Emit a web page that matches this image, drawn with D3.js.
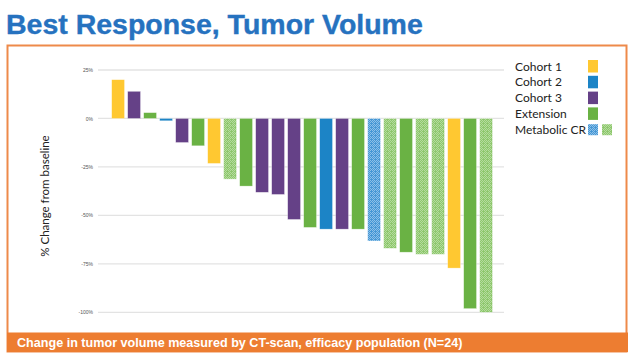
<!DOCTYPE html>
<html><head><meta charset="utf-8">
<script src="https://cdn.jsdelivr.net/npm/d3@7"></script>
<style>body{margin:0;background:#fff}svg{display:block}</style>
</head><body>
<svg id="c" width="640" height="360"></svg>
<script>
// Data
const patients = d3.range(1, 25).map(i => "P" + i);
const groups = ["Cohort 1","Cohort 3","Extension","Cohort 2","Cohort 3","Extension","Cohort 1","Extension","Extension","Cohort 3","Cohort 3","Cohort 3","Extension","Cohort 2","Cohort 3","Extension","Cohort 2","Extension","Extension","Extension","Extension","Cohort 1","Extension","Extension"];
const metabolicCR = [0,0,0,0,0,0,0,1,0,0,0,0,0,0,0,0,1,1,0,1,1,0,0,1];
const changes = [20,14,3,-1.2,-12.4,-14.1,-23.2,-31.3,-34.9,-38.1,-39.2,-52.1,-56.2,-57.1,-57.1,-57.1,-63.2,-67,-69,-70.1,-70.1,-77.2,-98.1,-100];
const yTicks = [25,0,-25,-50,-75,-100];
const legendItems = ["Cohort 1","Cohort 2","Cohort 3","Extension","Metabolic CR"];
const title = "Best Response, Tumor Volume";
const footnote = "Change in tumor volume measured by CT-scan, efficacy population (N=24)";
const yLabel = "% Change from baseline";

const colors = {"Cohort 1":"#ffc831","Cohort 2":"#1c84c6","Cohort 3":"#654187","Extension":"#6ab244"};

const svg = d3.select("#c");
const defs = svg.append("defs");
function mkPattern(id, base, light){
  const p = defs.append("pattern").attr("id", id).attr("patternUnits","userSpaceOnUse").attr("width",4).attr("height",4);
  p.append("rect").attr("width",4).attr("height",4).attr("fill",base);
  [[0,0],[2,0],[1,1],[3,1],[0,2],[2,2],[1,3]].forEach(([a,b]) =>
    p.append("rect").attr("x",a).attr("y",b).attr("width",1).attr("height",1).attr("fill",light));
}
mkPattern("pGreen", "#8ec76d", "#b4dc9d");
mkPattern("pBlue", "#4597d5", "#8cc0e8");
const patFor = g => g === "Cohort 2" ? "url(#pBlue)" : "url(#pGreen)";

// Title
const t = svg.append("text").attr("x",6).attr("y",34).attr("fill","#2672bf")
  .attr("font-family","Liberation Sans, Arial, sans-serif").attr("font-weight","bold")
  .attr("font-size",28).attr("stroke","#2672bf").attr("stroke-width",0.4).text(title);
const tw = t.node().getComputedTextLength();
t.attr("font-size", 28*417/tw);

// Frame
svg.append("rect").attr("x",7.5).attr("y",45.5).attr("width",619).attr("height",306)
  .attr("fill","none").attr("stroke","#ee8a4a").attr("stroke-width",2);

// Scales
const x = d3.scaleBand().domain(patients).range([108.5,495.7]).padding(0.2);
const y = d3.scaleLinear().domain([-100,25]).range([312.3,70]);

// Grid
const grid = svg.append("g");
grid.selectAll("line").data(yTicks).join("line")
  .attr("x1",98).attr("x2",504).attr("y1",d=>y(d)).attr("y2",d=>y(d))
  .attr("stroke","#e3e3e3").attr("stroke-width",1.3);

// Y axis labels
const yAxis = d3.axisLeft(y).tickValues(yTicks).tickSize(0).tickPadding(0).tickFormat(d=>d+"%");
const ya = svg.append("g").attr("transform","translate(93,0)").call(yAxis);
ya.select(".domain").remove();
ya.selectAll("text").attr("font-size",5).attr("fill","#555").attr("font-family","Liberation Sans, Arial, sans-serif");

// Bars
svg.append("g").selectAll("rect").data(patients).join("rect")
  .attr("x", d => x(d))
  .attr("width", x.bandwidth())
  .attr("y", (d,i) => y(Math.max(0, changes[i])))
  .attr("height", (d,i) => Math.abs(y(changes[i]) - y(0)))
  .attr("fill", (d,i) => metabolicCR[i] ? patFor(groups[i]) : colors[groups[i]])
  .attr("stroke", "rgba(255,255,255,0.5)").attr("stroke-width",0.6);

// Y label
svg.append("text").attr("transform","translate(49,196) rotate(-90)").attr("text-anchor","middle")
  .attr("font-family","Lato, sans-serif").attr("font-size",11.5).attr("fill","#222").text(yLabel);

// Legend
const lg = svg.append("g");
legendItems.forEach((name,i) => {
  const yy = 60 + i*15.8;
  lg.append("text").attr("x",515).attr("y",yy+10.5).attr("font-family","Lato, sans-serif")
    .attr("font-size",12).attr("fill","#222").text(name);
  if (name === "Metabolic CR") {
    lg.append("rect").attr("x",588).attr("y",yy+1).attr("width",10).attr("height",11).attr("fill","url(#pBlue)");
    lg.append("rect").attr("x",602).attr("y",yy+1).attr("width",10).attr("height",11).attr("fill","url(#pGreen)");
  } else {
    lg.append("rect").attr("x",588).attr("y",yy).attr("width",10).attr("height",12.5).attr("fill",colors[name]);
  }
});

// Footnote banner
svg.append("rect").attr("x",7).attr("y",332.5).attr("width",621).attr("height",19.5).attr("fill","#ed7d31");
const f = svg.append("text").attr("x",17).attr("y",347).attr("fill","#fff")
  .attr("font-family","Liberation Sans, Arial, sans-serif").attr("font-weight","bold")
  .attr("font-size",13).text(footnote);
const fw = f.node().getComputedTextLength();
f.attr("font-size", 13*446/fw);
</script>
</body></html>
